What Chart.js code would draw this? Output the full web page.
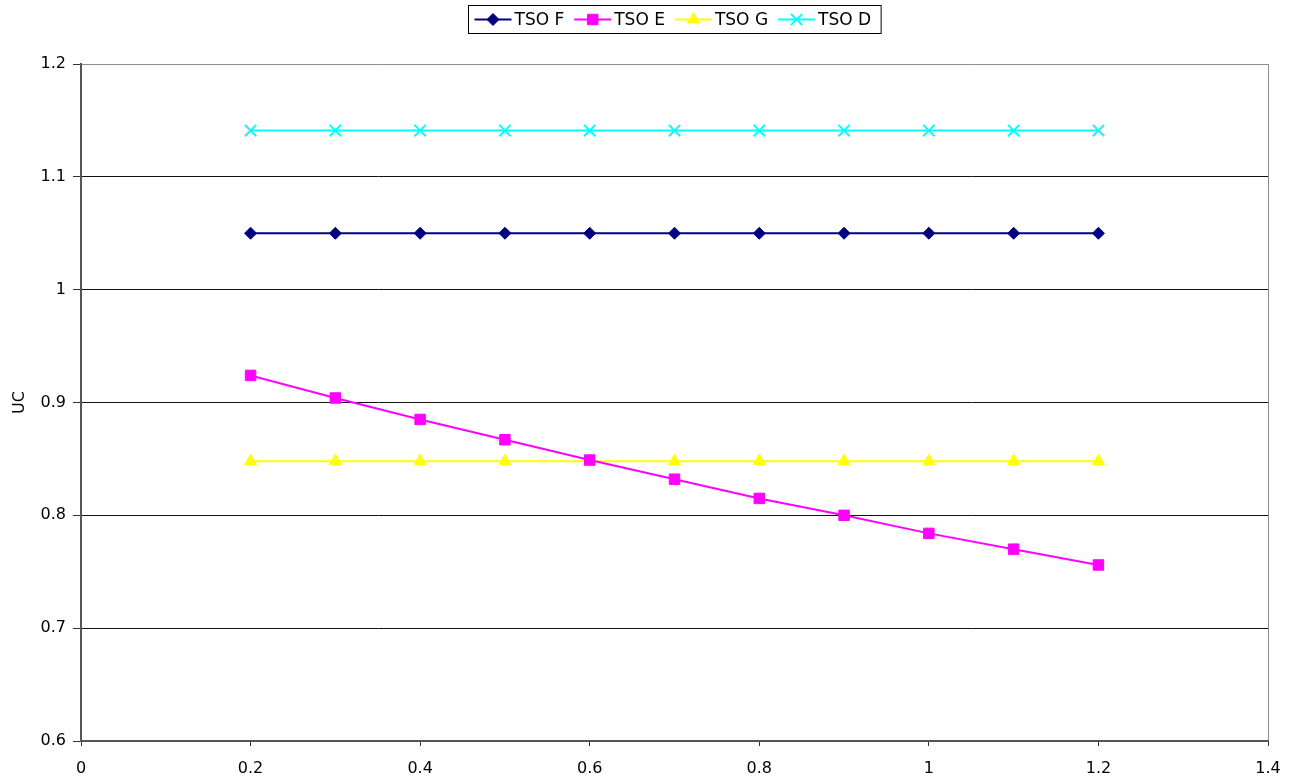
<!DOCTYPE html>
<html>
<head>
<meta charset="utf-8">
<style>
  html, body { margin: 0; padding: 0; background: #fff; }
  #wrap { width: 1289px; height: 780px; position: relative; }
</style>
<script src="https://cdn.jsdelivr.net/npm/chart.js@4/dist/chart.umd.min.js"></script>
</head>
<body>
<div id="wrap"><canvas id="chart" width="1289" height="780"></canvas></div>
<script>
// Load factor values along the x axis
const xValues = [0.2, 0.3, 0.4, 0.5, 0.6, 0.7, 0.8, 0.9, 1.0, 1.1, 1.2];

// UC per series
const tsoF = [1.05, 1.05, 1.05, 1.05, 1.05, 1.05, 1.05, 1.05, 1.05, 1.05, 1.05];
const tsoE = [0.924, 0.904, 0.885, 0.867, 0.849, 0.832, 0.815, 0.800, 0.784, 0.770, 0.756];
const tsoG = [0.848, 0.848, 0.848, 0.848, 0.848, 0.848, 0.848, 0.848, 0.848, 0.848, 0.848];
const tsoD = [1.141, 1.141, 1.141, 1.141, 1.141, 1.141, 1.141, 1.141, 1.141, 1.141, 1.141];

const seriesNames = ['TSO F', 'TSO E', 'TSO G', 'TSO D'];

// Axis ticks
const xTicks = [0, 0.2, 0.4, 0.6, 0.8, 1.0, 1.2, 1.4];
const yTicks = [0.6, 0.7, 0.8, 0.9, 1.0, 1.1, 1.2];
const yTitle = 'UC';

const FONT = 'DejaVu Sans';
Chart.defaults.font.family = FONT;
Chart.defaults.font.size = 16;
Chart.defaults.color = '#000';

function pts(ys) { return xValues.map((x, i) => ({ x: x, y: ys[i] })); }
function fmt(v) { return String(Number(v.toFixed(1))); }

const styles = [
  { color: '#000080', pointStyle: 'rectRot', radius: 6,   pbw: 1 },
  { color: '#FF00FF', pointStyle: 'rect',    radius: 7.4, pbw: 1 },
  { color: '#FFFF00', pointStyle: 'triangle',radius: 7,   pbw: 1 },
  { color: '#00FFFF', pointStyle: 'crossRot',radius: 8,   pbw: 2 }
];
const seriesValues = [tsoF, tsoE, tsoG, tsoD];

const datasets = seriesNames.map((name, i) => ({
  label: name,
  data: pts(seriesValues[i]),
  borderColor: styles[i].color,
  backgroundColor: styles[i].color,
  borderWidth: 2,
  pointStyle: styles[i].pointStyle,
  pointRadius: styles[i].radius,
  pointHoverRadius: styles[i].radius,
  pointBackgroundColor: styles[i].color,
  pointBorderColor: styles[i].color,
  pointBorderWidth: styles[i].pbw,
  tension: 0,
  fill: false
}));

// Boxed legend with line + marker samples, centred above the plot area
const boxedLegend = {
  id: 'boxedLegend',
  afterDraw(chart) {
    const ctx = chart.ctx;
    const area = chart.chartArea;
    ctx.save();
    ctx.font = '17px "' + FONT + '"';
    const lineLen = 37, gapText = 3, gapItem = 10, padL = 6, padR = 10;
    const widths = chart.data.datasets.map(d => ctx.measureText(d.label).width);
    let total = padL + padR;
    widths.forEach((w, i) => { total += lineLen + gapText + w + (i < widths.length - 1 ? gapItem : 0); });
    const left = Math.round((area.left + area.right) / 2 - total / 2) + 0.5;
    const top = 5.5, height = 28;
    const cy = top + height / 2;
    ctx.fillStyle = '#fff';
    ctx.fillRect(left, top, total, height);
    ctx.strokeStyle = '#000';
    ctx.lineWidth = 1;
    ctx.strokeRect(left, top, total, height);
    let x = left + padL;
    chart.data.datasets.forEach((d, i) => {
      ctx.strokeStyle = d.borderColor;
      ctx.lineWidth = 2;
      ctx.beginPath();
      ctx.moveTo(x, cy);
      ctx.lineTo(x + lineLen, cy);
      ctx.stroke();
      ctx.fillStyle = d.pointBackgroundColor;
      ctx.strokeStyle = d.pointBorderColor;
      ctx.lineWidth = d.pointBorderWidth;
      Chart.helpers.drawPoint(ctx, {
        pointStyle: d.pointStyle, radius: d.pointRadius, rotation: 0, borderWidth: d.pointBorderWidth
      }, x + lineLen / 2, cy);
      ctx.fillStyle = '#000';
      ctx.textBaseline = 'middle';
      ctx.textAlign = 'left';
      ctx.fillText(d.label, x + lineLen + gapText, cy + 1);
      x += lineLen + gapText + widths[i] + gapItem;
    });
    ctx.restore();
  }
};

new Chart(document.getElementById('chart'), {
  type: 'line',
  data: { datasets: datasets },
  plugins: [boxedLegend],
  options: {
    responsive: false,
    animation: false,
    layout: { padding: { left: 0, right: 21, top: 64, bottom: 0 } },
    plugins: {
      legend: { display: false },
      tooltip: { enabled: false }
    },
    scales: {
      x: {
        type: 'linear',
        min: 0,
        max: 1.4,
        afterBuildTicks: s => { s.ticks = xTicks.map(v => ({ value: v })); },
        afterFit: s => { s.height = 39; s.paddingLeft = 0; s.paddingRight = 0; },
        ticks: { callback: v => fmt(v), padding: 13, maxRotation: 0, autoSkip: false },
        grid: {
          drawOnChartArea: true,
          color: c => (c.tick && Math.abs(c.tick.value - 1.4) < 1e-9) ? '#8c8c8c' : 'rgba(0,0,0,0)',
          tickColor: '#333',
          tickLength: 5,
          lineWidth: 1
        },
        border: { display: true, color: '#555', width: 2 }
      },
      y: {
        type: 'linear',
        min: 0.6,
        max: 1.2,
        afterBuildTicks: s => { s.ticks = yTicks.map(v => ({ value: v })); },
        afterFit: s => { s.width = 81; s.paddingTop = 0; s.paddingBottom = 0; },
        ticks: { callback: v => fmt(v), padding: 7, autoSkip: false },
        title: { display: true, text: yTitle, font: { size: 16 }, padding: { top: 10, bottom: 0 } },
        grid: {
          color: c => (c.tick && Math.abs(c.tick.value - 1.2) < 1e-9) ? '#8c8c8c' : '#111',
          tickColor: '#333',
          tickLength: 8,
          lineWidth: 1
        },
        border: { display: true, color: '#555', width: 2 }
      }
    }
  }
});
</script>
</body>
</html>
